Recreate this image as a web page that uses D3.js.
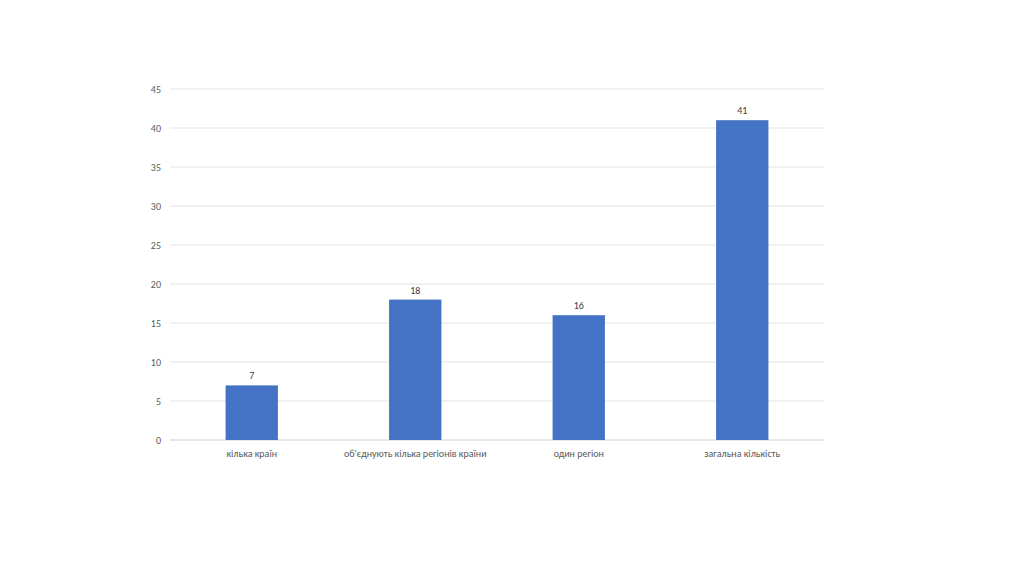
<!DOCTYPE html><html><head><meta charset="utf-8"><script src="https://cdn.jsdelivr.net/npm/d3@7"></script>
<style>body{margin:0;background:#fff}text{font-family:Calibri,"Liberation Sans","DejaVu Sans",sans-serif}</style></head><body><svg id="c" width="1024" height="576"></svg><script>
const categories=["кілька країн","об'єднують кілька регіонів  країни","один регіон","загальна кількість"];
const values=[7,18,16,41];
const yTicks=[0,5,10,15,20,25,30,35,40,45];
const svg=d3.select("#c");
const x=d3.scaleBand().domain(categories).range([170,824]).paddingInner(0.68).paddingOuter(0.34);
const y=d3.scaleLinear().domain([0,45]).range([440,89]);
svg.append("g").selectAll("line").data(yTicks).join("line").attr("x1",170).attr("x2",824).attr("y1",d=>y(d)).attr("y2",d=>y(d)).attr("stroke",d=>d===0?"#d0d0d0":"#e3e3e3").attr("stroke-width",1);
svg.append("g").selectAll("text").data(yTicks).join("text").attr("x",161).attr("y",d=>y(d)+3.5).attr("text-anchor","end").attr("font-size",10).attr("fill","#595959").text(d=>d);
svg.append("g").selectAll("rect").data(values).join("rect").attr("x",(d,i)=>x(categories[i])).attr("width",x.bandwidth()).attr("y",d=>y(d)).attr("height",d=>y(0)-y(d)).attr("fill","#4472c4");
svg.append("g").selectAll("text").data(values).join("text").attr("x",(d,i)=>x(categories[i])+x.bandwidth()/2).attr("y",d=>y(d)-6).attr("text-anchor","middle").attr("font-size",10).attr("fill","#404040").text(d=>d);
svg.append("g").selectAll("text").data(categories).join("text").attr("x",d=>x(d)+x.bandwidth()/2).attr("y",457).attr("text-anchor","middle").attr("font-size",10).attr("fill","#595959").text(d=>d);
</script></body></html>
